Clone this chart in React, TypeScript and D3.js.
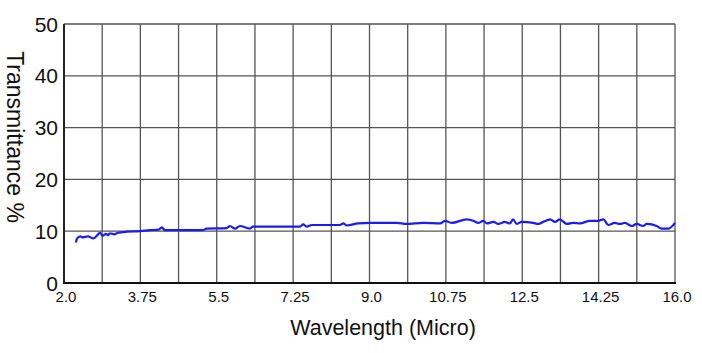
import React, { useEffect, useRef } from "react";
import * as d3 from "d3";

// wavelength (micro) and transmittance (%)
const wavelength = [
  2.27, 2.3, 2.37, 2.44, 2.48, 2.55, 2.67, 2.76, 2.82, 2.89, 2.96, 3.01, 3.05,
  3.15, 3.24, 3.44, 3.74, 3.97, 4.17, 4.24, 4.31, 5.18, 5.27, 5.73, 5.8, 5.92,
  6.03, 6.26, 6.33, 6.95, 7.41, 7.48, 7.56, 7.68, 8.32, 8.4, 8.48, 8.74, 9.01,
  9.62, 9.85, 10.23, 10.62, 10.73, 10.88, 11.23, 11.38, 11.49, 11.61, 11.69,
  11.84, 11.95, 12.1, 12.22, 12.29, 12.37, 12.49, 12.75, 12.87, 12.98, 13.14,
  13.25, 13.36, 13.52, 13.67, 13.82, 14.05, 14.24, 14.36, 14.47, 14.62, 14.74,
  14.85, 15.01, 15.12, 15.27, 15.35, 15.58, 15.69, 15.85, 16.0,
];
const transmittance = [
  7.8, 8.6, 9.0, 8.8, 8.9, 9.0, 8.6, 9.2, 9.7, 9.1, 9.5, 9.2, 9.6, 9.4, 9.7,
  9.9, 10.0, 10.2, 10.3, 10.75, 10.2, 10.2, 10.5, 10.6, 11.0, 10.5, 11.0, 10.5,
  10.9, 10.9, 10.9, 11.3, 10.9, 11.2, 11.2, 11.5, 11.1, 11.5, 11.6, 11.6, 11.4,
  11.6, 11.5, 12.0, 11.6, 12.3, 12.0, 11.6, 12.0, 11.5, 11.8, 11.4, 11.8, 11.5,
  12.3, 11.4, 11.8, 11.6, 11.4, 11.8, 12.3, 11.8, 12.3, 11.4, 11.6, 11.5, 12.0,
  12.0, 12.3, 11.2, 11.6, 11.4, 11.6, 11.0, 11.4, 11.0, 11.4, 11.0, 10.5, 10.5,
  11.6,
];

const xLabels = ["2.0", "3.75", "5.5", "7.25", "9.0", "10.75", "12.5", "14.25", "16.0"];
const yTicks = [0, 10, 20, 30, 40, 50];

const App = () => {
  const svgRef = useRef(null);

  useEffect(() => {
    if (!svgRef.current) return;
    const width = 702;
    const height = 353;
    const left = 64;
    const right = 675;
    const top = 24;
    const bottom = 283;

    const xScale = d3.scaleLinear().domain([2, 16]).range([left, right]);
    const yScale = d3.scaleLinear().domain([0, 50]).range([bottom, top]);

    const svg = d3.select(svgRef.current);
    svg.selectAll("*").remove();
    svg.attr("width", width).attr("height", height);
    svg.append("rect").attr("width", width).attr("height", height).attr("fill", "#fff");

    // grid: a vertical line every half label step
    const xGrid = d3.range(0, 17).map((i) => 2 + i * 0.875);
    svg
      .append("g")
      .selectAll("line")
      .data(xGrid)
      .enter()
      .append("line")
      .attr("x1", (d) => xScale(d))
      .attr("x2", (d) => xScale(d))
      .attr("y1", top)
      .attr("y2", bottom)
      .attr("stroke", "#555")
      .attr("stroke-width", 1.3);

    svg
      .append("g")
      .selectAll("line")
      .data(yTicks)
      .enter()
      .append("line")
      .attr("x1", left)
      .attr("x2", right)
      .attr("y1", (d) => yScale(d))
      .attr("y2", (d) => yScale(d))
      .attr("stroke", "#555")
      .attr("stroke-width", 1.3);

    // axes frame
    svg
      .append("line")
      .attr("x1", left)
      .attr("x2", left)
      .attr("y1", top)
      .attr("y2", bottom)
      .attr("stroke", "#222")
      .attr("stroke-width", 2);
    svg
      .append("line")
      .attr("x1", left - 1)
      .attr("x2", right + 1)
      .attr("y1", bottom)
      .attr("y2", bottom)
      .attr("stroke", "#111")
      .attr("stroke-width", 2.2);

    // tick labels
    svg
      .append("g")
      .selectAll("text")
      .data(yTicks)
      .enter()
      .append("text")
      .attr("x", left - 6)
      .attr("y", (d) => yScale(d) + 2)
      .attr("text-anchor", "end")
      .attr("dominant-baseline", "middle")
      .attr("font-family", "Liberation Sans, Arial, sans-serif")
      .attr("font-size", 21)
      .attr("fill", "#111")
      .text((d) => d);

    svg
      .append("g")
      .selectAll("text")
      .data(xLabels)
      .enter()
      .append("text")
      .attr("x", (d) => xScale(+d) + 2)
      .attr("y", 302)
      .attr("text-anchor", "middle")
      .attr("font-family", "Liberation Sans, Arial, sans-serif")
      .attr("font-size", 15)
      .attr("fill", "#111")
      .text((d) => d);

    // axis titles
    svg
      .append("text")
      .attr("x", 383)
      .attr("y", 335)
      .attr("text-anchor", "middle")
      .attr("font-family", "Liberation Sans, Arial, sans-serif")
      .attr("font-size", 21.5)
      .attr("fill", "#111")
      .text("Wavelength (Micro)");

    svg
      .append("text")
      .attr("transform", "translate(7,137) rotate(90)")
      .attr("text-anchor", "middle")
      .attr("font-family", "Liberation Sans, Arial, sans-serif")
      .attr("font-size", 23)
      .attr("fill", "#111")
      .text("Transmittance %");

    // the spectrum
    const points = wavelength.map((w, i) => [w, transmittance[i]]);
    const line = d3
      .line()
      .x((d) => xScale(d[0]))
      .y((d) => yScale(d[1]))
      .curve(d3.curveMonotoneX);
    svg
      .append("path")
      .datum(points)
      .attr("d", line)
      .attr("fill", "none")
      .attr("stroke", "#1c1cf0")
      .attr("stroke-width", 2.2)
      .attr("stroke-linejoin", "round");
  }, []);

  return (
    <svg
      ref={svgRef}
      style={{ position: "absolute", left: 0, top: 0, display: "block" }}
    ></svg>
  );
};

export default App;
